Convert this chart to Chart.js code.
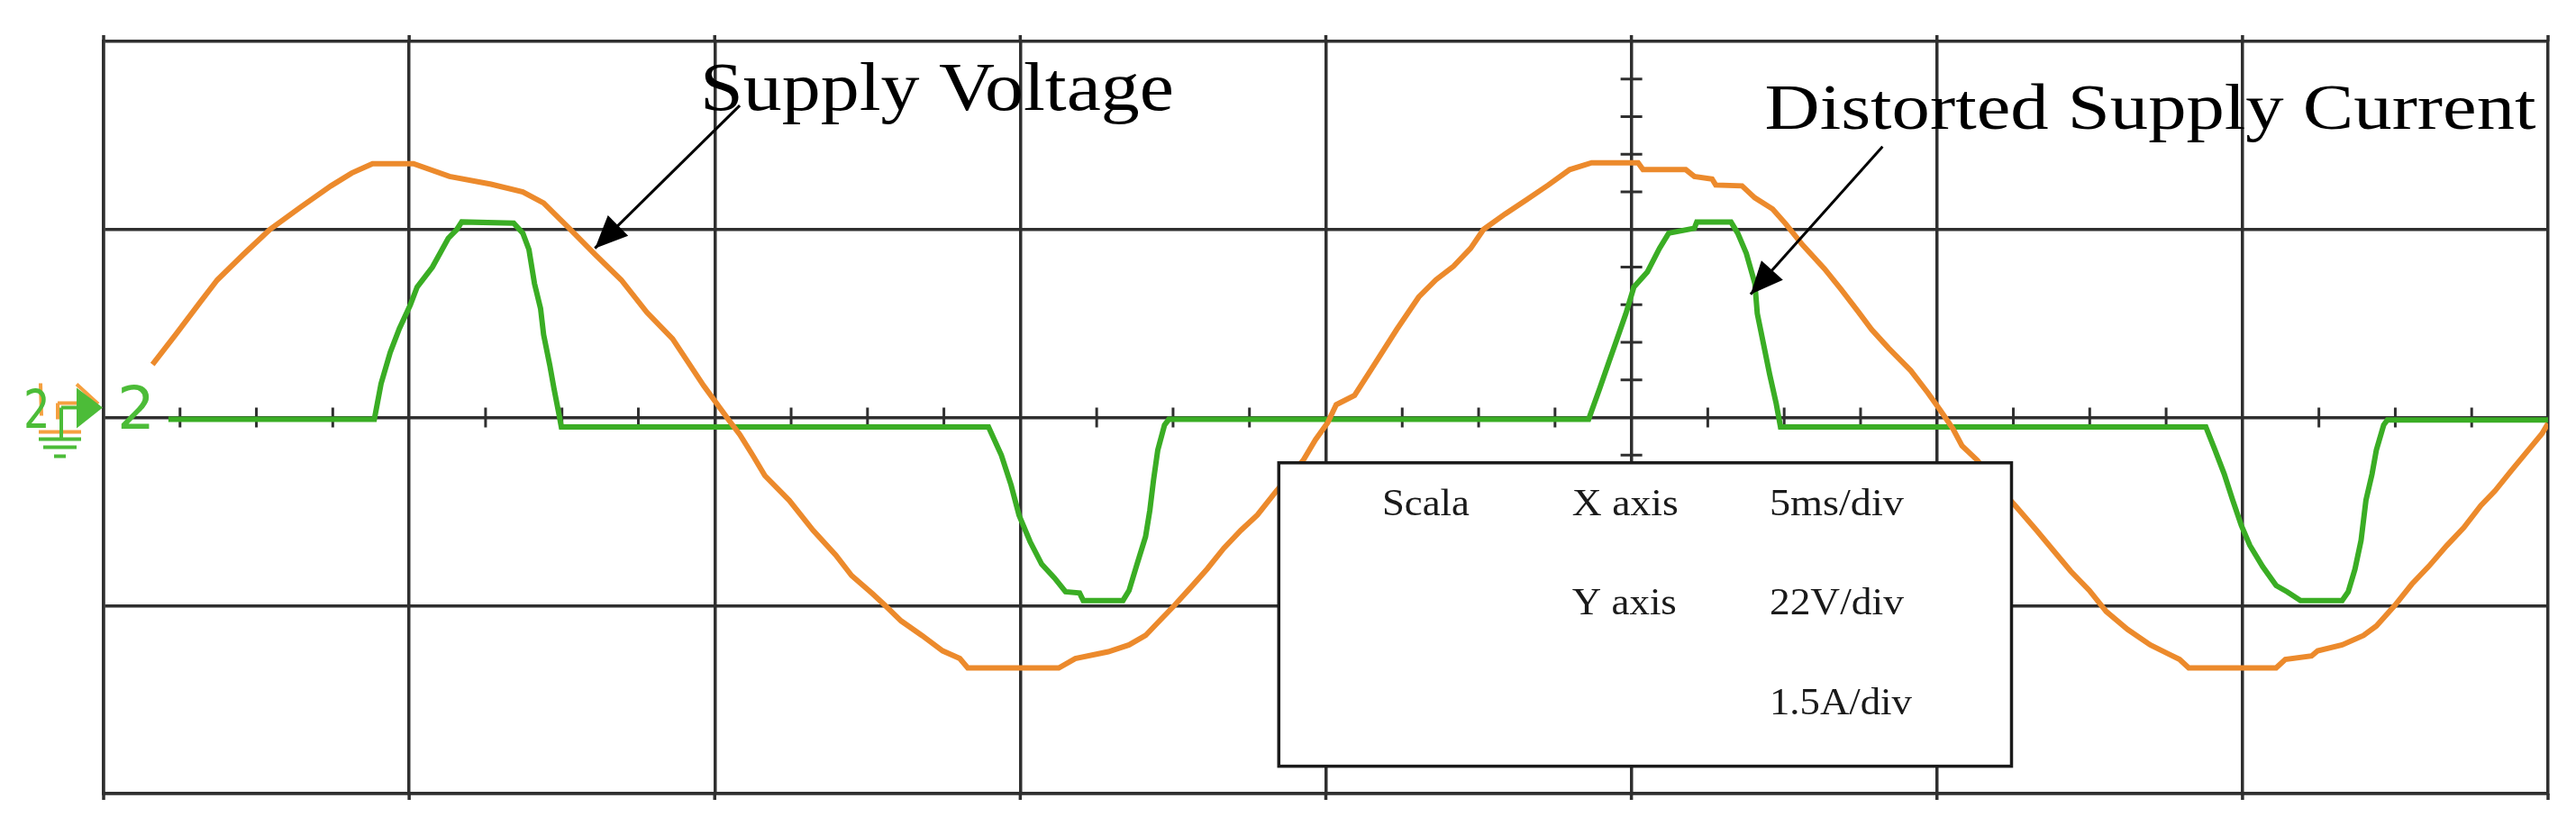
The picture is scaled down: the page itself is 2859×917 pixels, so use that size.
<!DOCTYPE html>
<html>
<head>
<meta charset="utf-8">
<title>Supply Voltage / Distorted Supply Current</title>
<script src="https://cdn.jsdelivr.net/npm/chart.js@4.4.1/dist/chart.umd.min.js"></script>
<style>
  html, body { margin: 0; padding: 0; background: #fff; }
  #wave { display: block; }
</style>
</head>
<body>
<canvas id="wave" width="2859" height="917"></canvas>
<script>
// time in ms (5 ms/div), voltage in V (22 V/div), current in A (1.5 A/div)
const voltageTime = [0.80, 1.18, 1.57, 1.86, 2.29, 2.72, 3.22, 3.72, 4.06, 4.40, 5.07, 5.66, 6.34, 6.86, 7.20, 7.61, 8.04, 8.47, 8.89, 9.31,
  9.82, 10.24, 10.41, 10.62, 10.82, 11.22, 11.61, 11.98, 12.24, 12.58, 12.79, 13.05, 13.39, 13.73, 14.01, 14.14, 15.63, 15.90, 16.44, 16.78,
  17.05, 17.25, 17.52, 17.80, 18.06, 18.33, 18.61, 18.88, 19.19, 19.63, 19.83, 20.03, 20.17, 20.47, 20.75, 21.16, 21.52, 21.80, 22.09, 22.37,
  22.58, 22.93, 23.29, 23.64, 23.99, 24.35, 25.11, 25.19, 25.89, 26.03, 26.32, 26.38, 26.81, 27.02, 27.31, 27.52, 27.80, 28.16, 28.43, 28.71,
  28.93, 29.21, 29.57, 29.85, 30.05, 30.26, 30.41, 30.66, 31.00, 31.28, 31.63, 31.91, 32.19, 32.49, 32.77, 33.12, 33.49, 33.77, 33.97, 34.12,
  35.55, 35.70, 36.13, 36.23, 36.63, 36.98, 37.19, 37.49, 37.77, 38.05, 38.34, 38.62, 38.90, 39.13, 39.40, 39.69, 39.90, 40.00];
const voltageValues = [6.2, 9.7, 13.4, 16.1, 19.1, 22.0, 24.6, 27.1, 28.6, 29.7, 29.7, 28.2, 27.3, 26.4, 25.1, 22.2, 19.1, 16.1, 12.3, 9.2,
  3.7, -0.4, -2.0, -4.4, -6.8, -9.7, -13.2, -16.1, -18.5, -20.6, -22.0, -23.8, -25.5, -27.3, -28.2, -29.3, -29.3, -28.2, -27.4, -26.6,
  -25.5, -24.0, -22.0, -19.8, -17.7, -15.3, -13.2, -11.4, -8.6, -5.0, -2.6, -0.6, 1.5, 2.6, 5.7, 10.3, 14.1, 16.1, 17.7, 19.8,
  22.0, 23.8, 25.5, 27.2, 29.0, 29.8, 29.8, 29.0, 29.0, 28.2, 27.9, 27.2, 27.1, 25.7, 24.4, 22.7, 20.2, 17.4, 15.0, 12.4,
  10.3, 8.1, 5.5, 2.9, 0.9, -1.3, -3.3, -5.0, -8.1, -10.3, -13.2, -15.6, -18.0, -20.2, -22.7, -24.8, -26.6, -27.6, -28.3, -29.3,
  -29.3, -28.3, -27.9, -27.3, -26.6, -25.5, -24.4, -22.0, -19.5, -17.4, -15.0, -12.9, -10.3, -8.6, -6.2, -3.7, -1.9, -0.7];

const currentTime = [1.06, 4.43, 4.54, 4.69, 4.84, 5.02, 5.13, 5.38, 5.64, 5.78, 5.86, 6.71, 6.86, 6.96, 7.05, 7.15, 7.20, 7.30, 7.37, 7.45,
  7.49, 14.48, 14.69, 14.85, 14.98, 15.16, 15.35, 15.56, 15.74, 15.97, 16.03, 16.68, 16.78, 16.91, 17.05, 17.12, 17.18, 17.25, 17.36, 17.43,
  24.30, 24.48, 24.63, 24.76, 24.91, 25.04, 25.26, 25.46, 25.61, 26.03, 26.07, 26.63, 26.74, 26.88, 27.02, 27.06, 27.16, 27.26, 27.37, 27.44,
  34.40, 34.55, 34.70, 34.84, 34.98, 35.12, 35.33, 35.55, 35.73, 35.95, 36.63, 36.73, 36.84, 36.94, 37.02, 37.12, 37.19, 37.31, 37.37, 40.00];
const currentValues = [-0.015, -0.015, 0.27, 0.52, 0.71, 0.90, 1.04, 1.20, 1.43, 1.50, 1.56, 1.55, 1.47, 1.34, 1.07, 0.87, 0.66, 0.42, 0.23, 0.03,
  -0.075, -0.075, -0.30, -0.54, -0.78, -0.99, -1.17, -1.28, -1.39, -1.40, -1.46, -1.46, -1.38, -1.17, -0.95, -0.74, -0.50, -0.26, -0.06, -0.015,
  -0.015, 0.23, 0.44, 0.62, 0.83, 1.04, 1.16, 1.35, 1.47, 1.51, 1.56, 1.56, 1.47, 1.31, 1.07, 0.83, 0.59, 0.35, 0.11, -0.075,
  -0.075, -0.26, -0.45, -0.66, -0.86, -1.02, -1.19, -1.34, -1.39, -1.46, -1.46, -1.39, -1.21, -0.98, -0.66, -0.45, -0.26, -0.06, -0.02, -0.02];

// scope settings
const timePerDiv = 5;
const voltsPerDiv = 22;
const ampsPerDiv = 1.5;
const xDivs = 8;
const yDivs = 4;

// text of the scale box
const scaleRows = [
  ['Scala', 'X axis', '5ms/div'],
  ['', 'Y axis', '22V/div'],
  ['', '', '1.5A/div']
];

const gridColor = '#2f2f2f';
const orange = '#ec8a2c';
const green = '#3aad24';

const toPoints = (xs, ys) => xs.map((x, i) => ({ x: x, y: ys[i] }));

// draws text with a given font size, stretched to a given width
function fitText(c, str, x, y, size, width) {
  c.font = size + 'px "Liberation Serif", "Times New Roman", serif';
  const w = c.measureText(str).width;
  c.save();
  c.translate(x, y);
  c.scale(width / w, 1);
  c.fillText(str, 0, 0);
  c.restore();
}

function arrow(c, x1, y1, x2, y2) {
  c.beginPath();
  c.moveTo(x1, y1);
  c.lineTo(x2, y2);
  c.stroke();
  const a = Math.atan2(y2 - y1, x2 - x1);
  const len = 36, half = 16;
  const bx = x2 - len * Math.cos(a), by = y2 - len * Math.sin(a);
  c.beginPath();
  c.moveTo(x2, y2);
  c.lineTo(bx + half * Math.sin(a), by - half * Math.cos(a));
  c.lineTo(bx - half * Math.sin(a), by + half * Math.cos(a));
  c.closePath();
  c.fill();
}

const scopeExtras = {
  id: 'scopeExtras',
  beforeDatasetsDraw(chart) {
    const c = chart.ctx;
    const xs = chart.scales.x, ys = chart.scales.y;
    const area = chart.chartArea;
    c.save();
    c.strokeStyle = gridColor;
    c.lineWidth = 3.5;
    // vertical lines poke a little past the frame
    for (let i = 0; i <= xDivs; i++) {
      const x = xs.getPixelForValue(i * timePerDiv);
      c.beginPath();
      c.moveTo(x, area.top - 7); c.lineTo(x, area.top);
      c.moveTo(x, area.bottom); c.lineTo(x, area.bottom + 7);
      c.stroke();
    }
    // minor ticks on the centre lines
    c.lineWidth = 3;
    const y0 = ys.getPixelForValue(0);
    for (let k = 1; k < xDivs * 4; k++) {
      if (k % 4 === 0) continue;
      const x = xs.getPixelForValue(k * timePerDiv / 4);
      c.beginPath(); c.moveTo(x, y0 - 11); c.lineTo(x, y0 + 11); c.stroke();
    }
    const x5 = xs.getPixelForValue(5 * timePerDiv);
    for (let k = -yDivs / 2 * 5 + 1; k < yDivs / 2 * 5; k++) {
      if (k % 5 === 0) continue;
      const y = ys.getPixelForValue(k * voltsPerDiv / 5);
      c.beginPath(); c.moveTo(x5 - 12, y); c.lineTo(x5 + 12, y); c.stroke();
    }
    c.restore();
  },
  afterDatasetsDraw(chart) {
    const c = chart.ctx;
    const xs = chart.scales.x, ys = chart.scales.y;
    const px = v => xs.getPixelForValue(v);
    const py = v => ys.getPixelForValue(v);
    const area = chart.chartArea;
    c.save();

    // scale box
    const bx1 = px(19.23), by1 = py(-5.3), bx2 = px(31.22), by2 = py(-40.8);
    c.fillStyle = '#fff';
    c.fillRect(bx1, by1, bx2 - bx1, by2 - by1);
    c.strokeStyle = '#1a1a1a';
    c.lineWidth = 3.5;
    c.strokeRect(bx1, by1, bx2 - bx1, by2 - by1);

    c.fillStyle = '#1a1a1a';
    c.textBaseline = 'alphabetic';
    c.textAlign = 'left';
    const colX = [20.92, 24.03, 27.26];
    const rowY = [-11.4, -23.0, -34.7];
    const widths = { 'Scala': 97, 'X axis': 118, 'Y axis': 116, '5ms/div': 149, '22V/div': 149, '1.5A/div': 158 };
    scaleRows.forEach((row, r) => {
      row.forEach((txt, col) => {
        if (!txt) return;
        fitText(c, txt, px(colX[col]), py(rowY[r]), 42, widths[txt]);
      });
    });

    // labels with arrows
    c.fillStyle = '#000';
    c.strokeStyle = '#000';
    c.lineWidth = 3;
    fitText(c, 'Supply Voltage', px(9.76), py(36.0), 76, 526);
    arrow(c, px(10.41), py(36.5), px(8.04), py(19.8));
    fitText(c, 'Distorted Supply Current', px(27.18), py(33.8), 72, 856);
    arrow(c, px(29.11), py(31.7), px(26.95), py(14.4));

    // channel 2 ground marker on the left
    const mx = area.left, my = py(0);
    c.lineWidth = 4;
    c.strokeStyle = '#f5a040';
    c.beginPath();
    c.moveTo(mx - 70, my - 38); c.lineTo(mx - 69, my - 2);
    c.moveTo(mx - 51, my - 16); c.lineTo(mx - 28, my - 16);
    c.moveTo(mx - 51, my - 16); c.lineTo(mx - 51, my + 2);
    c.moveTo(mx - 72, my + 16); c.lineTo(mx - 25, my + 16);
    c.moveTo(mx - 30, my - 37); c.lineTo(mx - 6, my - 15);
    c.stroke();

    c.strokeStyle = '#4cbc38';
    c.fillStyle = '#4cbc38';
    c.beginPath();
    c.moveTo(mx - 47, my - 11); c.lineTo(mx - 47, my + 24);
    c.moveTo(mx - 47, my - 11); c.lineTo(mx - 30, my - 11);
    c.moveTo(mx - 72, my + 24); c.lineTo(mx - 25, my + 24);
    c.moveTo(mx - 67, my + 33); c.lineTo(mx - 30, my + 33);
    c.moveTo(mx - 55, my + 43); c.lineTo(mx - 42, my + 43);
    c.stroke();
    c.beginPath();
    c.moveTo(mx - 30, my - 33); c.lineTo(mx - 30, my + 12); c.lineTo(mx - 1, my - 11);
    c.closePath();
    c.fill();
    c.font = '58px "DejaVu Sans", sans-serif';
    c.save();
    c.translate(mx - 89, my + 11);
    c.scale(0.8, 1);
    c.fillText('2', 0, 0);
    c.restore();
    c.font = '66px "DejaVu Sans", sans-serif';
    c.fillText('2', mx + 15, my + 12);

    c.restore();
  }
};

const ctx = document.getElementById('wave').getContext('2d');

new Chart(ctx, {
  type: 'line',
  data: {
    datasets: [
      {
        label: 'Supply Voltage',
        data: toPoints(voltageTime, voltageValues),
        borderColor: orange,
        borderWidth: 6,
        pointRadius: 0,
        tension: 0,
        yAxisID: 'y'
      },
      {
        label: 'Distorted Supply Current',
        data: toPoints(currentTime, currentValues),
        borderColor: green,
        borderWidth: 6,
        pointRadius: 0,
        tension: 0,
        yAxisID: 'yA'
      }
    ]
  },
  options: {
    responsive: false,
    animation: false,
    devicePixelRatio: 1,
    layout: { padding: { left: 115, right: 31, top: 46, bottom: 36 } },
    plugins: {
      legend: { display: false },
      tooltip: { enabled: false }
    },
    scales: {
      x: {
        type: 'linear',
        min: 0,
        max: xDivs * timePerDiv,
        ticks: { display: false, stepSize: timePerDiv },
        grid: { color: gridColor, lineWidth: 3.5, drawTicks: false },
        border: { color: gridColor, width: 3.5 }
      },
      y: {
        min: -yDivs / 2 * voltsPerDiv,
        max: yDivs / 2 * voltsPerDiv,
        ticks: { display: false, stepSize: voltsPerDiv },
        grid: { color: gridColor, lineWidth: 3.5, drawTicks: false },
        border: { color: gridColor, width: 3.5 }
      },
      yA: {
        display: false,
        min: -yDivs / 2 * ampsPerDiv,
        max: yDivs / 2 * ampsPerDiv
      }
    }
  },
  plugins: [scopeExtras]
});
</script>
</body>
</html>
